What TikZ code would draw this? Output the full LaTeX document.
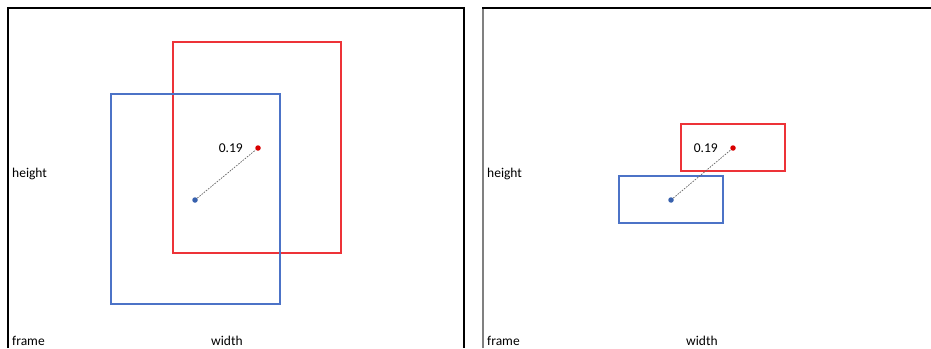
\documentclass[tikz,border=0pt]{standalone}
\usepackage{fontspec}
\setmainfont{Carlito}
\usetikzlibrary{calc,positioning}
\definecolor{boxred}{rgb}{0.93, 0.20, 0.22}
\definecolor{boxblue}{rgb}{0.30, 0.45, 0.78}
\definecolor{dotred}{rgb}{0.85, 0.0, 0.0}
\definecolor{dotblue}{rgb}{0.22, 0.38, 0.68}
\tikzset{
  lbl/.style={anchor=west, inner sep=0pt, font=\fontsize{13.5}{15}\selectfont},
  redbox/.style={draw=boxred, line width=1.1pt},
  bluebox/.style={draw=boxblue, line width=1.1pt},
  reddot/.style={circle, fill=dotred, inner sep=0pt, minimum size=5.5pt},
  bluedot/.style={circle, fill=dotblue, inner sep=0pt, minimum size=5.5pt},
  link/.style={gray!80!black, line width=0.7pt, dash pattern=on 1.6pt off 1.2pt}
}
\begin{document}
\begin{tikzpicture}[x=1pt,y=-1pt]
    \useasboundingbox (0,0) rectangle (931,348);

    % =====================
    % Left frame
    % =====================
    \draw[line width=1.5pt] (8,348) -- (8,8) -- (464,8) -- (464,348);

    \draw[redbox] (173,42) rectangle (341,253);
    \draw[bluebox] (111,94) rectangle (280,304);

    \node[reddot] (lred) at (258,148) {};
    \node[bluedot] (lblue) at (195,200) {};
    \draw[link] (lblue) -- (lred);
    \node[lbl, anchor=east] (lval) at (243,148) {0.19};

    \node[lbl] (lheight) at (12,174) {height};
    \node[lbl] (lframe) at (12,341) {frame};
    \node[lbl] (lwidth) at (211,341) {width};

    % =====================
    % Right frame
    % =====================
    \draw[line width=1.5pt, gray] (483,348) -- (483,8);
    \draw[line width=1.5pt] (482,8) -- (931,8);

    \draw[redbox] (681,124) rectangle (785,171);
    \draw[bluebox] (619,176) rectangle (723,223);

    \node[reddot] (rred) at (733,148) {};
    \node[bluedot] (rblue) at (671,200) {};
    \draw[link] (rblue) -- (rred);
    \node[lbl, anchor=east] (rval) at (718,148) {0.19};

    \node[lbl] (rheight) at (487,174) {height};
    \node[lbl] (rframe) at (487,341) {frame};
    \node[lbl] (rwidth) at (686,341) {width};
\end{tikzpicture}
\end{document}
